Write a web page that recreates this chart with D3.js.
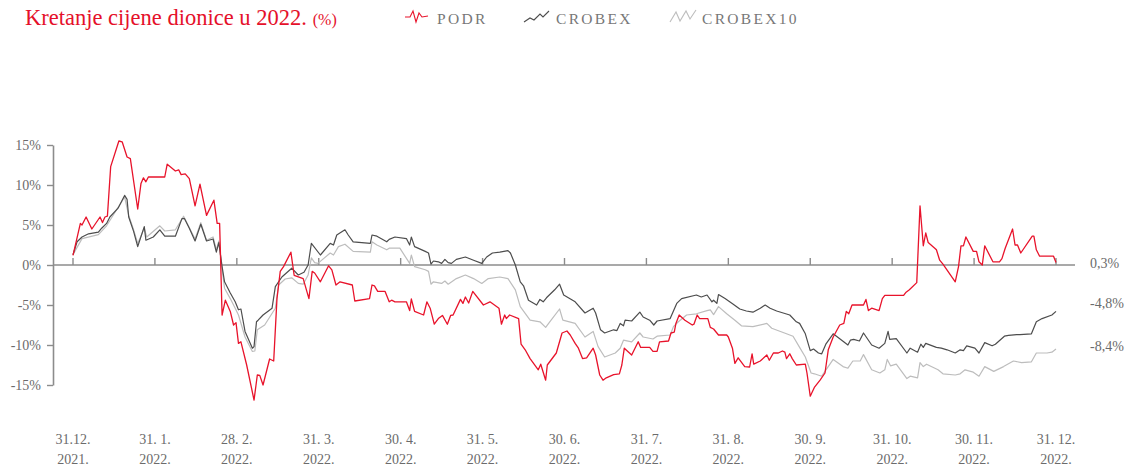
<!DOCTYPE html>
<html><head><meta charset="utf-8">
<script src="https://cdn.jsdelivr.net/npm/d3@7"></script>
<style>
html,body{margin:0;padding:0;background:#fff;}
svg{display:block;font-family:"Liberation Serif","DejaVu Serif",serif;}
</style></head>
<body><svg id="c" width="1147" height="469"></svg>
<script>
// ---- data: [month offset from 31.12.2021, % change] ----
const podr = [[0,1.2],[0.09,5.2],[0.11,5.0],[0.16,6.0],[0.23,4.5],[0.33,6.0],[0.36,5.3],[0.39,6.0],[0.42,6.1],[0.46,12.3],[0.56,15.5],[0.60,15.4],[0.66,13.5],[0.70,13.3],[0.79,7.0],[0.83,10.2],[0.86,10.9],[0.89,10.4],[0.92,11.0],[1.12,11.0],[1.15,12.6],[1.25,11.75],[1.29,11.9],[1.32,11.3],[1.37,11.4],[1.42,10.8],[1.49,7.4],[1.55,10.1],[1.63,6.2],[1.72,8.1],[1.76,5.2],[1.79,5.2],[1.82,-6.25],[1.86,-4.4],[1.92,-5.8],[1.96,-7.5],[1.99,-7.2],[2.02,-9.8],[2.05,-9.6],[2.12,-12.5],[2.21,-16.9],[2.25,-13.75],[2.28,-13.8],[2.32,-15],[2.40,-11.75],[2.45,-12],[2.49,-4.2],[2.53,-0.8],[2.57,-0.2],[2.66,1.6],[2.70,-1.3],[2.81,-1.7],[2.88,-4.2],[2.92,-0.8],[2.95,-1.0],[3.02,-2.1],[3.12,-0.1],[3.16,-0.6],[3.21,-2.5],[3.26,-2.1],[3.41,-2.5],[3.44,-4.5],[3.62,-4.2],[3.65,-2.5],[3.68,-2.6],[3.72,-3.3],[3.81,-3.3],[3.86,-4.6],[3.89,-4.4],[3.93,-4.6],[4.07,-4.6],[4.11,-5.7],[4.13,-4.25],[4.17,-5.8],[4.28,-6.25],[4.32,-4.6],[4.36,-5.4],[4.41,-7.4],[4.46,-6.7],[4.51,-6.3],[4.57,-7.4],[4.61,-6.3],[4.64,-6.25],[4.73,-4.3],[4.76,-4.8],[4.79,-4.0],[4.83,-4.75],[4.88,-3.3],[5.01,-5.0],[5.09,-4.6],[5.20,-5.4],[5.23,-7.4],[5.27,-6.25],[5.29,-6.7],[5.33,-6.25],[5.44,-6.7],[5.47,-9.9],[5.52,-10.6],[5.58,-11.7],[5.68,-13.1],[5.71,-12.4],[5.77,-14.4],[5.79,-12.5],[5.90,-11.0],[5.97,-8.5],[6.03,-8.25],[6.07,-8.75],[6.13,-9.8],[6.17,-10.4],[6.22,-11.7],[6.27,-11.6],[6.35,-10.4],[6.38,-11.25],[6.43,-13.75],[6.47,-14.4],[6.51,-14.1],[6.60,-13.7],[6.67,-13.6],[6.70,-12.5],[6.73,-10.4],[6.82,-11.25],[6.90,-9.6],[6.93,-10.3],[7.04,-10.3],[7.08,-10.8],[7.13,-10.8],[7.16,-9.6],[7.27,-9.5],[7.30,-8.5],[7.34,-8.4],[7.36,-7.3],[7.40,-6.25],[7.47,-6.9],[7.56,-7.5],[7.58,-7.4],[7.62,-6.25],[7.65,-6.7],[7.75,-6.7],[7.78,-7.8],[7.82,-8.0],[7.88,-8.75],[7.98,-8.75],[8.00,-9.0],[8.05,-10.4],[8.08,-12.3],[8.12,-11.6],[8.20,-12.7],[8.26,-12.75],[8.29,-11.1],[8.31,-12.4],[8.39,-12],[8.47,-11.25],[8.50,-11.9],[8.55,-11.0],[8.61,-11.0],[8.66,-10.75],[8.69,-10.9],[8.71,-11.7],[8.75,-11.1],[8.78,-11.7],[8.83,-12.5],[8.94,-12.4],[8.96,-13.5],[9.00,-16.4],[9.05,-15.3],[9.12,-14.4],[9.18,-13.5],[9.22,-10.6],[9.28,-9.0],[9.36,-7.5],[9.41,-7.3],[9.44,-5.8],[9.47,-6.1],[9.51,-5.0],[9.65,-5.0],[9.68,-4.3],[9.71,-5.7],[9.75,-5.4],[9.84,-5.7],[9.88,-4.2],[9.91,-3.8],[10.14,-3.8],[10.17,-3.4],[10.21,-3.1],[10.30,-2.2],[10.34,7.4],[10.38,2.4],[10.41,4.0],[10.44,2.8],[10.52,2.1],[10.54,1.9],[10.58,0.6],[10.62,0.1],[10.77,-2.1],[10.81,-0.2],[10.84,2.4],[10.87,2.4],[10.90,3.5],[10.99,1.7],[11.03,1.7],[11.06,0.4],[11.10,0],[11.13,2.4],[11.23,0.4],[11.31,0.4],[11.34,0.8],[11.38,2.1],[11.47,4.5],[11.50,2.5],[11.53,2.5],[11.57,1.5],[11.71,3.6],[11.73,3.6],[11.76,1.9],[11.80,1.1],[11.97,1.1],[12,0.3]];

const crobex = [[0,1.3],[0.05,2.9],[0.11,3.5],[0.19,3.9],[0.31,4.1],[0.35,4.6],[0.41,5.2],[0.45,6.0],[0.55,7.1],[0.63,8.7],[0.66,8.2],[0.68,6.0],[0.74,4.2],[0.79,2.3],[0.87,4.8],[0.89,3.1],[0.98,3.5],[1.06,4.4],[1.12,3.6],[1.25,3.6],[1.33,5.8],[1.36,5.8],[1.42,4.6],[1.49,3.0],[1.56,5.1],[1.63,3.0],[1.71,3.25],[1.75,1.6],[1.78,2.8],[1.82,-0.2],[1.85,-2.1],[1.92,-3.5],[1.98,-4.6],[2.02,-5.6],[2.05,-5.5],[2.10,-8.3],[2.19,-10.4],[2.21,-10.2],[2.24,-7.1],[2.26,-6.9],[2.32,-6.25],[2.43,-5.4],[2.47,-2.7],[2.55,-1.5],[2.67,-0.4],[2.75,-1.25],[2.82,-0.9],[2.87,0],[2.91,2.7],[3.02,1.25],[3.14,2.7],[3.18,2.5],[3.22,3.75],[3.32,4.4],[3.36,3.75],[3.42,2.9],[3.63,2.7],[3.65,3.75],[3.71,3.6],[3.83,2.9],[3.86,3.2],[3.93,3.5],[4.07,3.3],[4.11,2.5],[4.13,3.5],[4.17,2.3],[4.30,1.7],[4.34,1.5],[4.37,0.1],[4.40,0.5],[4.46,0.4],[4.50,0.2],[4.54,0.7],[4.58,0.3],[4.62,0.2],[4.68,0.7],[4.79,1.0],[4.89,0.6],[4.99,0.2],[5.05,1.0],[5.12,1.5],[5.21,1.6],[5.31,1.8],[5.34,1.5],[5.40,0],[5.46,-2.1],[5.50,-2.6],[5.56,-4.4],[5.66,-5.0],[5.70,-4.3],[5.74,-4.6],[5.78,-4.1],[5.88,-3.1],[5.94,-2.4],[5.99,-3.75],[6.13,-4.6],[6.25,-6.0],[6.35,-5.4],[6.38,-6.0],[6.44,-8.1],[6.49,-8.5],[6.60,-8.1],[6.64,-8.2],[6.68,-7.3],[6.72,-7.6],[6.74,-6.9],[6.82,-7.0],[6.92,-5.9],[6.96,-6.5],[7.04,-6.9],[7.09,-7.5],[7.13,-7.0],[7.29,-6.7],[7.37,-4.8],[7.43,-4.2],[7.61,-3.75],[7.67,-4.0],[7.74,-3.75],[7.80,-4.6],[7.82,-4.4],[7.86,-4.8],[7.88,-3.7],[7.96,-4.2],[8.06,-4.9],[8.14,-5.5],[8.22,-5.75],[8.30,-5.9],[8.39,-5.4],[8.45,-5.0],[8.51,-5.4],[8.59,-5.75],[8.75,-6.25],[8.83,-7.1],[8.87,-7.3],[8.94,-8.6],[9.00,-10.7],[9.04,-10.5],[9.10,-11.0],[9.14,-11.1],[9.19,-9.9],[9.28,-8.6],[9.46,-10],[9.49,-9.4],[9.53,-9.3],[9.60,-9.5],[9.65,-8.5],[9.75,-10],[9.84,-10.4],[9.91,-9.8],[9.95,-8.3],[9.97,-9.3],[10.05,-9.2],[10.18,-11.0],[10.22,-10.4],[10.31,-10.9],[10.35,-9.9],[10.38,-10.3],[10.41,-9.8],[10.54,-10.3],[10.60,-10.4],[10.67,-10.6],[10.77,-11.0],[10.83,-10.6],[10.87,-10.7],[10.91,-10.1],[11.01,-10.4],[11.06,-11.0],[11.13,-9.7],[11.22,-10.1],[11.26,-9.9],[11.37,-8.9],[11.42,-8.8],[11.52,-8.7],[11.56,-8.7],[11.70,-8.6],[11.76,-7.1],[11.83,-6.7],[11.95,-6.25],[12,-5.8]];

const crobex10 = [[0,1.3],[0.11,3.3],[0.31,3.8],[0.41,4.9],[0.63,8.5],[0.68,6.2],[0.74,4.4],[0.79,2.7],[0.87,4.6],[0.90,3.5],[1.06,4.9],[1.12,4.25],[1.25,4.4],[1.35,6.1],[1.49,3.25],[1.56,5.3],[1.63,3.1],[1.71,3.5],[1.75,1.9],[1.78,3.0],[1.82,-0.5],[1.85,-2.9],[1.92,-4.2],[1.98,-5.4],[2.02,-6.25],[2.10,-9.0],[2.19,-10.8],[2.22,-10.75],[2.25,-8.1],[2.34,-7.5],[2.47,-5.4],[2.51,-2.5],[2.59,-1.75],[2.67,-1.6],[2.75,-2.3],[2.81,-2.4],[2.87,-1.25],[2.91,0.9],[2.95,0.3],[2.99,0.2],[3.14,1.5],[3.18,1.25],[3.24,2.3],[3.32,2.6],[3.42,1.7],[3.63,1.6],[3.65,2.9],[3.71,2.5],[3.83,1.9],[3.86,2.1],[3.99,2.1],[4.11,0.2],[4.13,1.25],[4.17,-0.2],[4.30,-0.6],[4.34,-0.8],[4.37,-2.4],[4.40,-2.1],[4.50,-2.3],[4.54,-2.0],[4.58,-2.4],[4.68,-1.7],[4.79,-1.25],[4.89,-1.7],[4.99,-2.3],[5.07,-1.7],[5.21,-1.5],[5.31,-1.7],[5.40,-3.1],[5.46,-5.2],[5.58,-6.9],[5.70,-7.1],[5.77,-7.8],[5.82,-7.1],[5.94,-5.5],[5.98,-6.9],[6.13,-7.3],[6.25,-9.0],[6.35,-8.3],[6.41,-10.2],[6.49,-11.5],[6.62,-11.0],[6.68,-10.4],[6.72,-9.4],[6.82,-9.6],[6.92,-8.5],[6.96,-9.0],[7.08,-9.25],[7.13,-8.9],[7.29,-8.75],[7.33,-7.7],[7.39,-7.1],[7.49,-6.25],[7.61,-6.1],[7.74,-5.7],[7.78,-5.6],[7.82,-6.2],[7.88,-5.2],[7.98,-6.1],[8.08,-6.9],[8.16,-7.6],[8.30,-7.7],[8.47,-7.3],[8.53,-7.9],[8.71,-8.6],[8.79,-8.9],[8.87,-10.3],[8.94,-11.5],[9.01,-13.5],[9.05,-13.6],[9.14,-13.9],[9.28,-11.8],[9.40,-12.7],[9.46,-12.9],[9.52,-12.0],[9.61,-12.0],[9.65,-11.2],[9.75,-13.1],[9.85,-13.5],[9.91,-13.1],[9.94,-11.8],[9.98,-12.6],[10.05,-12.4],[10.18,-14.2],[10.22,-13.9],[10.31,-14.1],[10.34,-12.2],[10.38,-12.7],[10.42,-12.4],[10.56,-13.1],[10.62,-13.6],[10.77,-13.75],[10.83,-13.6],[10.89,-13.1],[10.99,-13.4],[11.06,-13.9],[11.13,-12.7],[11.24,-13.3],[11.36,-12.7],[11.48,-12.0],[11.58,-12.2],[11.70,-12.1],[11.76,-11.0],[11.89,-11.0],[11.95,-10.9],[12,-10.5]];

const seriesNames = ["PODR", "CROBEX", "CROBEX10"];
const endLabels = ["0,3%", "-4,8%", "-8,4%"];
const yTicks = [15, 10, 5, 0, -5, -10, -15];
const monthLabels = [["31.12.","2021."],["31. 1.","2022."],["28. 2.","2022."],["31. 3.","2022."],["30. 4.","2022."],["31. 5.","2022."],["30. 6.","2022."],["31. 7.","2022."],["31. 8.","2022."],["30. 9.","2022."],["31. 10.","2022."],["30. 11.","2022."],["31. 12.","2022."]];
const titleText = "Kretanje cijene dionice u 2022.";
const titleUnit = "(%)";

// ---- drawing ----
const colors = ["#e8132b", "#4d4d4d", "#bdbdbd"];
const axisColor = "#8c8c8c";
const textColor = "#6b6b6b";
const svg = d3.select("#c");

const x = d3.scaleLinear().domain([0, 12]).range([73, 1056]);
const y = d3.scaleLinear().domain([-15, 15]).range([385, 145]);
const plotLeft = 53, plotRight = 1075;

// Title
const t = svg.append("text").attr("x", 25).attr("y", 25).attr("fill", "#e5102a");
t.append("tspan").attr("font-size", 22.5).text(titleText);
t.append("tspan").attr("font-size", 16).attr("dx", 6).text(titleUnit);

// Legend
const legendX = [405, 524, 670];
const iconShapes = [
  [[0,17],[5,17],[8,11],[11,22],[14,13],[17,17],[23,16]],
  [[0,22],[6,18],[10,20],[16,14],[19,17],[25,11]],
  [[0,22],[6,12],[10,21],[16,11],[20,19],[26,10]]
];
seriesNames.forEach((n, i) => {
  const g = svg.append("g").attr("transform", `translate(${legendX[i]},0)`);
  g.append("path").attr("d", d3.line()(iconShapes[i])).attr("fill", "none")
    .attr("stroke", colors[i]).attr("stroke-width", 1.1);
  g.append("text").attr("x", 32).attr("y", 24).attr("font-size", 15.5)
    .attr("letter-spacing", 2.3).attr("fill", "#777").text(n);
});

// Y axis
const yAxis = svg.append("g").attr("transform", `translate(${plotLeft},0)`)
  .call(d3.axisLeft(y).tickValues(yTicks).tickSize(6).tickSizeOuter(0).tickPadding(6)
    .tickFormat(d => d + "%"));
yAxis.select(".domain").attr("stroke", axisColor).attr("stroke-width", 1.6);
yAxis.selectAll(".tick line").attr("stroke", axisColor).attr("stroke-width", 1.4);
yAxis.selectAll(".tick text").attr("fill", textColor).attr("font-size", 14)
  .attr("font-family", "Liberation Serif, serif");

// Zero line with month ticks
const zero = svg.append("g");
zero.append("line").attr("x1", plotLeft).attr("x2", plotRight)
  .attr("y1", y(0)).attr("y2", y(0)).attr("stroke", axisColor).attr("stroke-width", 1.6);
zero.selectAll("line.mt").data(d3.range(monthLabels.length)).join("line").attr("class", "mt")
  .attr("x1", d => x(d)).attr("x2", d => x(d))
  .attr("y1", y(0)).attr("y2", y(0) - 7)
  .attr("stroke", axisColor).attr("stroke-width", 1.4);

// X labels
const xl = svg.append("g").attr("font-size", 14).attr("fill", textColor).attr("text-anchor", "middle");
monthLabels.forEach((m, i) => {
  const tx = xl.append("text").attr("x", x(i)).attr("y", 444);
  tx.append("tspan").attr("x", x(i)).text(m[0]);
  tx.append("tspan").attr("x", x(i)).attr("dy", 20).text(m[1]);
});

// Lines
const line = d3.line().x(d => x(d[0])).y(d => y(d[1]));
const all = [crobex10, crobex, podr];
const allColors = [colors[2], colors[1], colors[0]];
const widths = [1.2, 1.2, 1.3];
all.forEach((s, i) => {
  svg.append("path").datum(s).attr("d", line).attr("fill", "none")
    .attr("stroke", allColors[i]).attr("stroke-width", widths[i]).attr("stroke-linejoin", "round");
});

// End labels
const nudges = [0, -8, -3];
[podr, crobex, crobex10].forEach((s, i) => {
  const last = s[s.length - 1];
  svg.append("text").attr("x", 1090).attr("y", y(last[1]) + nudges[i])
    .attr("dy", "0.35em").attr("font-size", 14).attr("fill", textColor).text(endLabels[i]);
});
</script></body></html>
